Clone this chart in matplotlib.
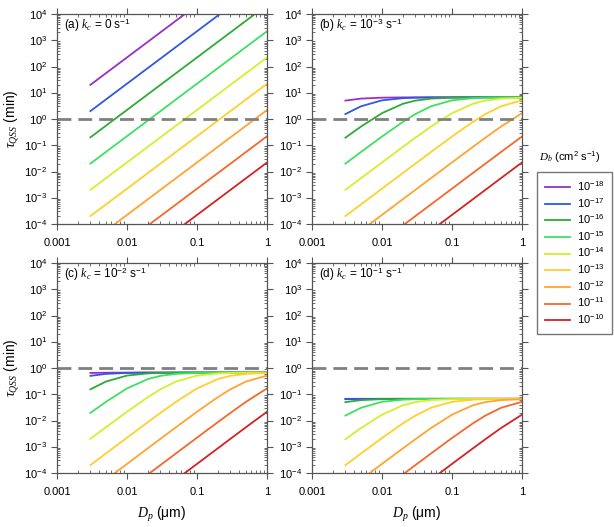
import numpy as np
import matplotlib.pyplot as plt
from matplotlib.ticker import LogLocator, FixedLocator, FixedFormatter, NullFormatter

plt.rcParams['font.family'] = ['Liberation Sans', 'DejaVu Sans']
plt.rcParams['mathtext.fontset'] = 'custom'
plt.rcParams['mathtext.rm'] = 'Liberation Sans'
plt.rcParams['mathtext.it'] = 'Liberation Serif:italic'
plt.rcParams['mathtext.bf'] = 'Liberation Sans:bold'

# bulk diffusion coefficients (legend) and colours
db_labels = [r'10$^{-18}$', r'10$^{-17}$', r'10$^{-16}$', r'10$^{-15}$', r'10$^{-14}$',
             r'10$^{-13}$', r'10$^{-12}$', r'10$^{-11}$', r'10$^{-10}$']
db_colors = ['#9a2fc8', '#2d58e0', '#2faa35', '#3ee060', '#d6ee2c',
             '#ffd02c', '#ffa432', '#f4682c', '#d42222']

panel_titles = [r'(a) $k_c$ = 0 s$^{-1}$', r'(b) $k_c$ = 10$^{-3}$ s$^{-1}$',
                r'(c) $k_c$ = 10$^{-2}$ s$^{-1}$', r'(d) $k_c$ = 10$^{-1}$ s$^{-1}$']

# panel (a): straight lines, read at the two ends (um, min)
dp_a = [0.003, 1.0]
tau_a = [
    [20, 2.2e6],
    [2.0, 2.2e5],
    [0.2, 2.2e4],
    [0.02, 2.2e3],
    [2e-3, 2.2e2],
    [2e-4, 22],
    [2e-5, 2.2],
    [2e-6, 0.22],
    [2e-7, 0.022],
]

# panels (b)-(d): values read on a common Dp grid (um)
dp = [0.003, 0.005, 0.01, 0.02, 0.03, 0.05, 0.1, 0.2, 0.3, 0.5, 1.0]

tau_b = [
    [5.02, 5.98, 6.50, 6.65, 6.68, 6.69, 6.70, 6.70, 6.70, 6.70, 6.70],
    [1.54, 3.04, 5.15, 6.23, 6.48, 6.62, 6.68, 6.70, 6.70, 6.70, 6.70],
    [0.194, 0.513, 1.67, 3.82, 5.02, 5.98, 6.50, 6.65, 6.68, 6.69, 6.70],
    [0.0199, 0.0551, 0.215, 0.785, 1.54, 3.04, 5.15, 6.23, 6.48, 6.62, 6.68],
    [0.002, 0.00556, 0.0221, 0.0877, 0.194, 0.513, 1.67, 3.82, 5.02, 5.98, 6.50],
    [2e-4, 5.56e-4, 0.00222, 0.00888, 0.0199, 0.0551, 0.215, 0.785, 1.54, 3.04, 5.15],
    [2e-5, 5.56e-5, 2.22e-4, 8.89e-4, 0.002, 0.00556, 0.0221, 0.0877, 0.194, 0.513, 1.67],
    [2e-6, 5.56e-6, 2.22e-5, 8.89e-5, 2e-4, 5.56e-4, 0.00222, 0.00888, 0.0199, 0.0551, 0.215],
    [2e-7, 5.56e-7, 2.22e-6, 8.89e-6, 2e-5, 5.56e-5, 2.22e-4, 8.89e-4, 0.002, 0.00556, 0.0221],
]

tau_c = [
    [0.648, 0.662, 0.668, 0.670, 0.670, 0.670, 0.670, 0.670, 0.670, 0.670, 0.670],
    [0.502, 0.598, 0.650, 0.665, 0.668, 0.669, 0.670, 0.670, 0.670, 0.670, 0.670],
    [0.154, 0.304, 0.515, 0.623, 0.648, 0.662, 0.668, 0.670, 0.670, 0.670, 0.670],
    [0.0194, 0.0513, 0.167, 0.382, 0.502, 0.598, 0.650, 0.665, 0.668, 0.669, 0.670],
    [0.002, 0.00554, 0.0215, 0.0785, 0.154, 0.304, 0.515, 0.623, 0.648, 0.662, 0.668],
    [2e-4, 5.56e-4, 0.00222, 0.00877, 0.0194, 0.0513, 0.167, 0.382, 0.502, 0.598, 0.650],
    [2e-5, 5.56e-5, 2.22e-4, 8.89e-4, 0.002, 0.00554, 0.0215, 0.0785, 0.154, 0.304, 0.515],
    [2e-6, 5.56e-6, 2.22e-5, 8.89e-5, 2e-4, 5.56e-4, 0.00222, 0.00877, 0.0194, 0.0513, 0.167],
    [2e-7, 5.56e-7, 2.22e-6, 8.89e-6, 2e-5, 5.56e-5, 2.22e-4, 8.88e-4, 0.002, 0.00554, 0.0215],
]

tau_d = [
    [0.0668, 0.0670, 0.0670, 0.0670, 0.0670, 0.0670, 0.0670, 0.0670, 0.0670, 0.0670, 0.0670],
    [0.0648, 0.0662, 0.0668, 0.0670, 0.0670, 0.0670, 0.0670, 0.0670, 0.0670, 0.0670, 0.0670],
    [0.0502, 0.0598, 0.0650, 0.0665, 0.0668, 0.0669, 0.0670, 0.0670, 0.0670, 0.0670, 0.0670],
    [0.0154, 0.0304, 0.0515, 0.0623, 0.0648, 0.0662, 0.0668, 0.0670, 0.0670, 0.0670, 0.0670],
    [0.00194, 0.00513, 0.0167, 0.0382, 0.0502, 0.0598, 0.0650, 0.0665, 0.0668, 0.0669, 0.0670],
    [1.99e-4, 5.51e-4, 0.00215, 0.00785, 0.0154, 0.0304, 0.0515, 0.0623, 0.0648, 0.0662, 0.0668],
    [2e-5, 5.56e-5, 2.22e-4, 8.77e-4, 0.00194, 0.00513, 0.0167, 0.0382, 0.0502, 0.0598, 0.0650],
    [2e-6, 5.56e-6, 2.22e-5, 8.89e-5, 2e-4, 5.51e-4, 0.00215, 0.00785, 0.0154, 0.0304, 0.0515],
    [2e-7, 5.56e-7, 2.22e-6, 8.89e-6, 2e-5, 5.56e-5, 2.22e-4, 8.77e-4, 0.00194, 0.00513, 0.0167],
]

x_ticks = [0.001, 0.01, 0.1, 1]
x_ticklabels = ['0.001', '0.01', '0.1', '1']
y_ticks = [1e-4, 1e-3, 1e-2, 1e-1, 1e0, 1e1, 1e2, 1e3, 1e4]
y_ticklabels = [r'10$^{%d}$' % e for e in range(-4, 5)]

fig = plt.figure(figsize=(6.14, 5.27), dpi=100)
W, H = 614, 527
boxes = [(57, 14), (312, 14), (57, 263), (312, 263)]  # left, top in pixels
aw, ah = 210, 210

datasets = [(dp_a, tau_a), (dp, tau_b), (dp, tau_c), (dp, tau_d)]
edge = '#555555'

for i, ((x0, y0), (xs, tab)) in enumerate(zip(boxes, datasets)):
    ax = fig.add_axes([x0 / W, 1 - (y0 + ah) / H, aw / W, ah / H])
    for vals, col in zip(tab, db_colors):
        ax.plot(xs, vals, color=col, lw=1.3)
    ax.axhline(1.0, color='#808080', lw=2.0, dashes=(5, 2.5))
    ax.set_xscale('log')
    ax.set_yscale('log')
    ax.set_xlim(0.001, 1)
    ax.set_ylim(1e-4, 1e4)

    ax.xaxis.set_major_locator(FixedLocator(x_ticks))
    ax.xaxis.set_major_formatter(FixedFormatter(x_ticklabels))
    ax.yaxis.set_major_locator(FixedLocator(y_ticks))
    ax.yaxis.set_major_formatter(FixedFormatter(y_ticklabels))
    ax.xaxis.set_minor_locator(LogLocator(base=10, subs=np.arange(2, 10), numticks=20))
    ax.yaxis.set_minor_locator(LogLocator(base=10, subs=np.arange(2, 10), numticks=30))
    ax.xaxis.set_minor_formatter(NullFormatter())
    ax.yaxis.set_minor_formatter(NullFormatter())

    ax.tick_params(which='major', direction='out', length=4, width=0.8, color=edge,
                   top=True, right=True, labelsize=8, pad=3)
    ax.tick_params(which='minor', direction='in', length=2.5, width=0.6, color=edge,
                   top=True, right=True)
    ax.tick_params(axis='x', which='major', pad=6)
    for sp in ax.spines.values():
        sp.set_color(edge)
        sp.set_linewidth(0.9)

    ax.text(0.035, 0.945, panel_titles[i], transform=ax.transAxes, fontsize=8.5, va='center')
    if i in (0, 2):
        ax.set_ylabel(r'$\tau_{QSS}$ (min)', fontsize=10, labelpad=2)
    if i in (2, 3):
        ax.set_xlabel(r'$D_p$ ($\mathrm{\mu}$m)', fontsize=10, labelpad=6)

handles = [plt.Line2D([], [], color=c, lw=1.3) for c in db_colors]
fig.legend(handles, db_labels, loc='upper left', bbox_to_anchor=(537 / W, 1 - 172 / H),
           fontsize=8, frameon=True, fancybox=False, edgecolor=edge, handlelength=2.3,
           labelspacing=0.32, borderpad=0.7, handletextpad=0.6, borderaxespad=0)
fig.text(570 / W, 1 - 157 / H, r'$D_b$ (cm$^2$ s$^{-1}$)', fontsize=8, ha='center', va='center')

fig.savefig('out.png', dpi=100)
